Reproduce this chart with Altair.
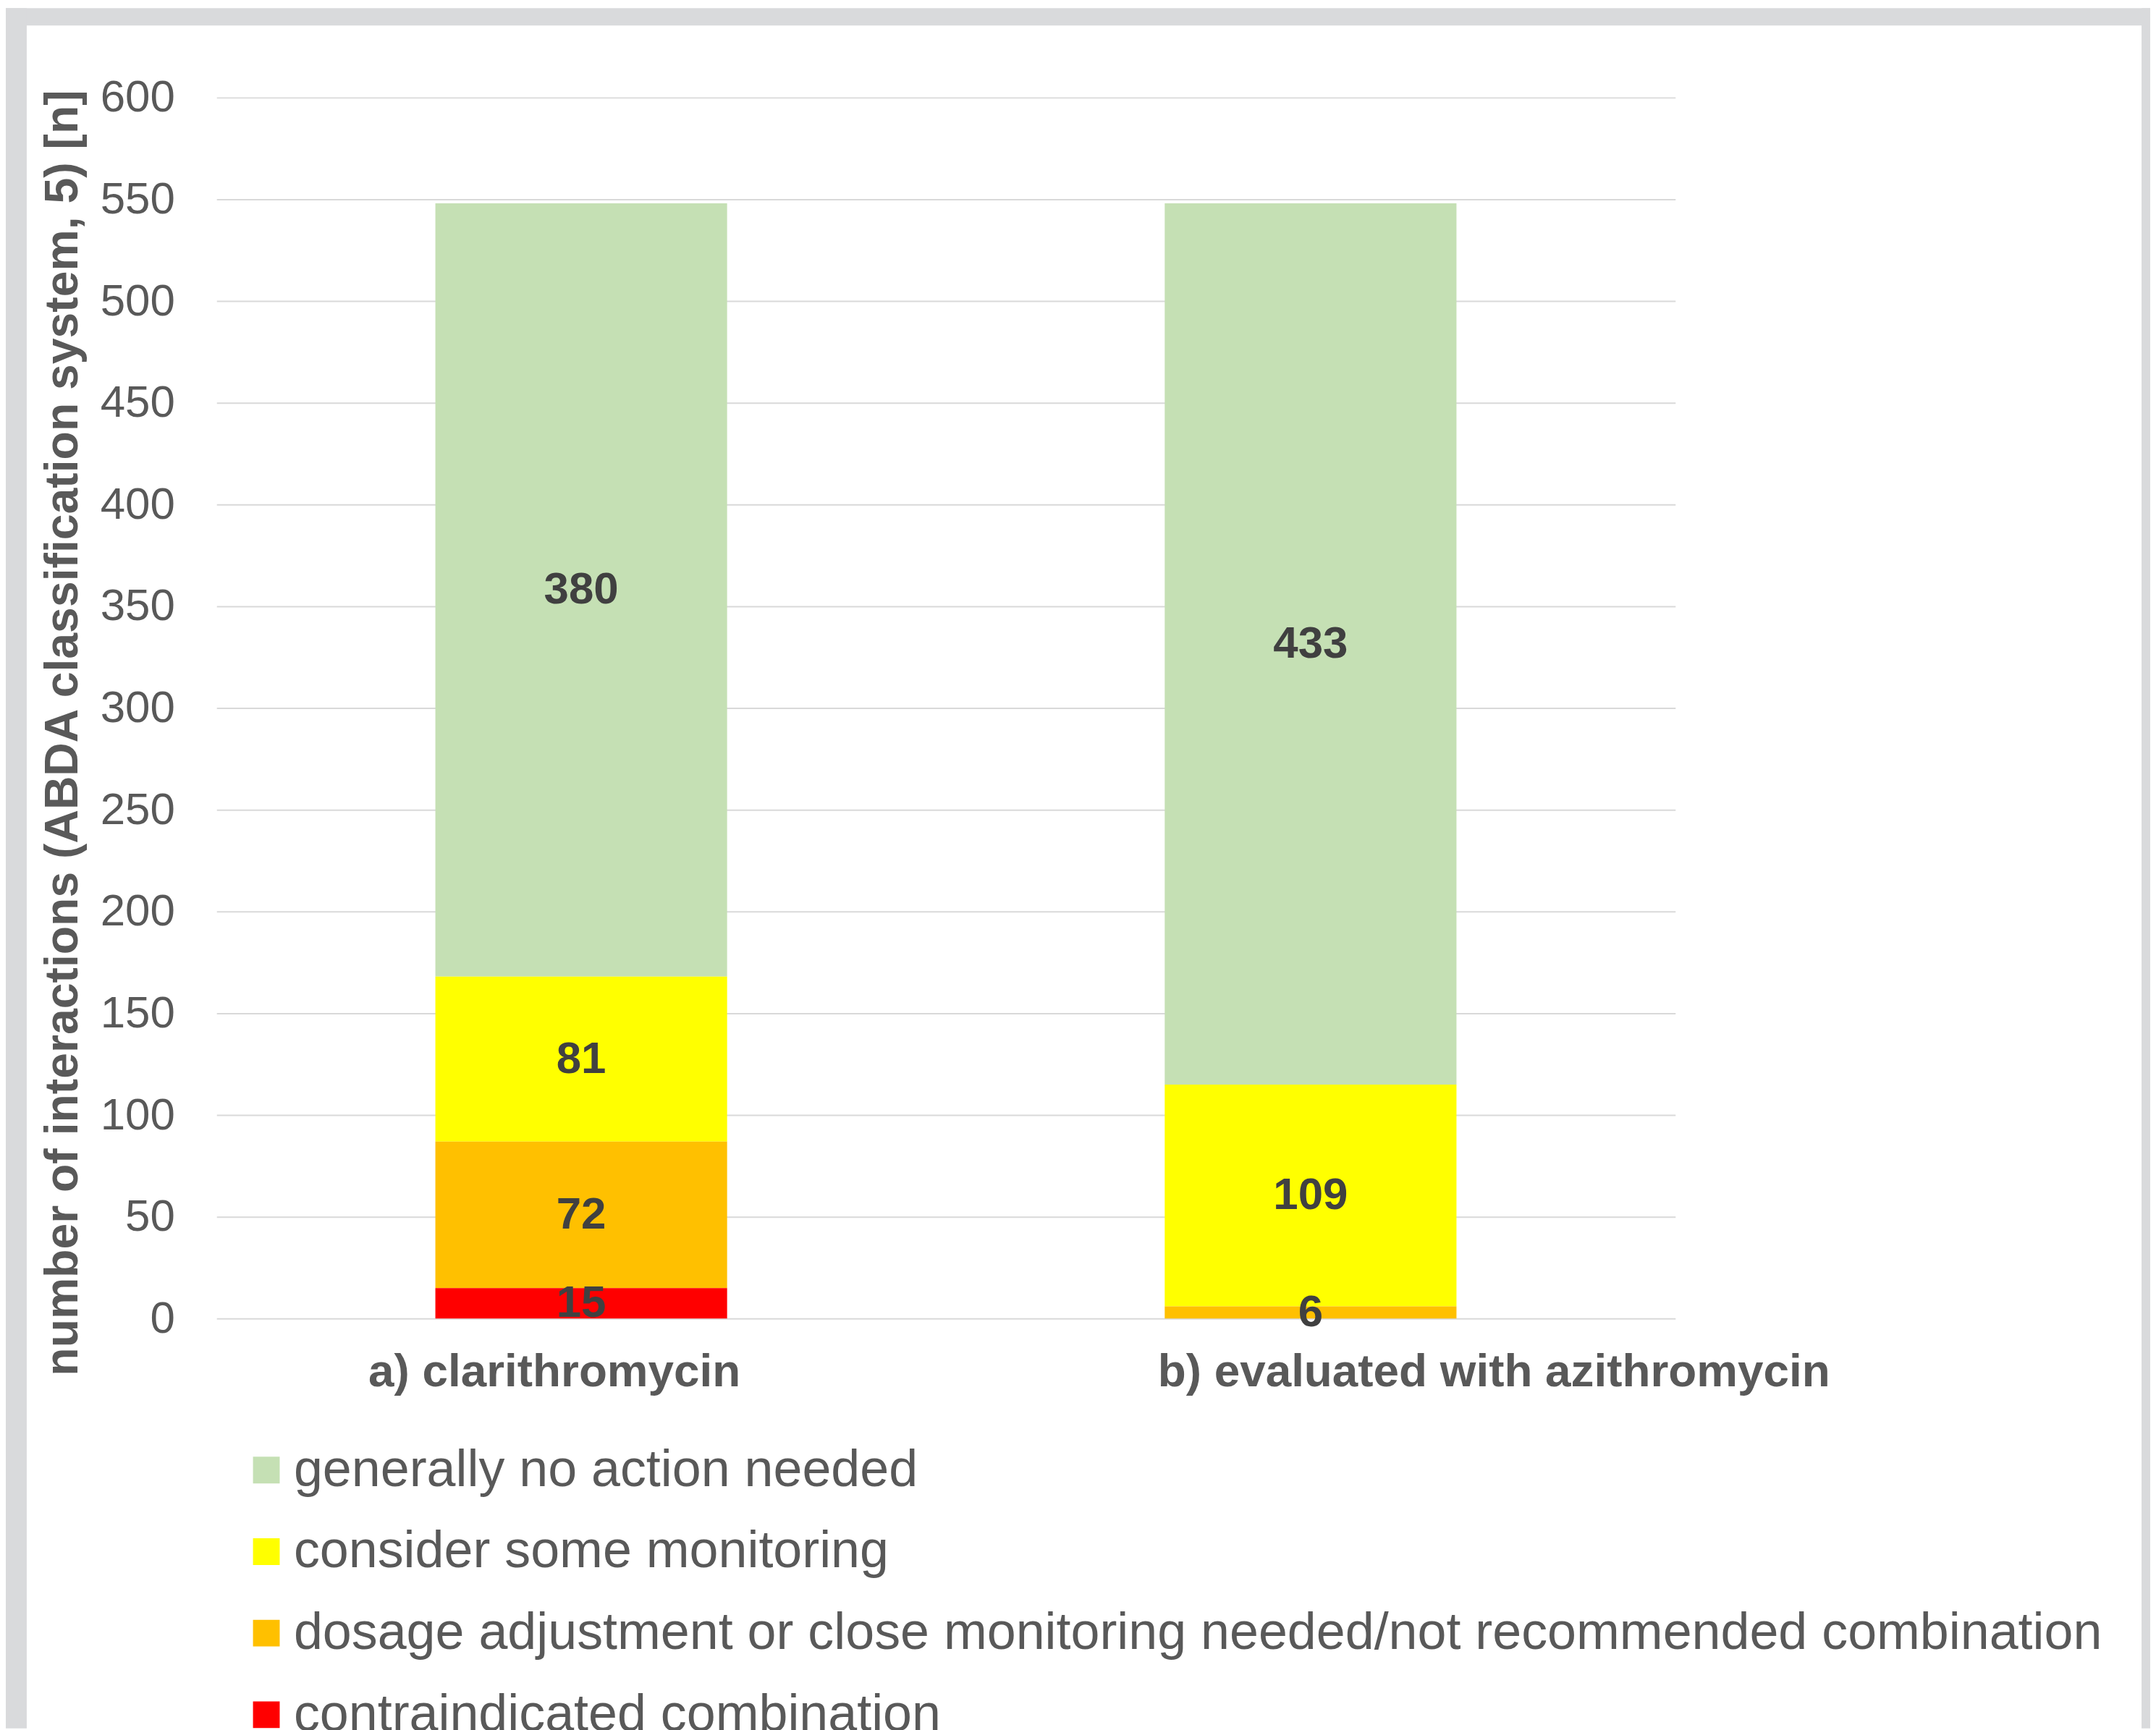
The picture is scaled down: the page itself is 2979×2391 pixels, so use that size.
import altair as alt
import pandas as pd

categories = ["a) clarithromycin", "b) evaluated with azithromycin"]
classes = [
    "generally no action needed",
    "consider some monitoring",
    "dosage adjustment or close monitoring needed/not recommended combination",
    "contraindicated combination",
]
colors = ["#C5E0B4", "#FFFF00", "#FFC000", "#FF0000"]
values_a = [380, 81, 72, 15]
values_b = [433, 109, 6, 0]
y_ticks = list(range(0, 601, 50))

rows = []
for cat, vals in zip(categories, [values_a, values_b]):
    for i, (cls, v) in enumerate(zip(classes, vals)):
        if v > 0:
            rows.append({"category": cat, "cls": cls, "value": v, "order": 3 - i})
df = pd.DataFrame(rows)

FONT = "Liberation Sans"
GRAY = "#595959"
FRAME = "#D9DADC"

x_axis = alt.Axis(
    title=None, grid=False, domain=False, ticks=False, labelAngle=0,
    labelFont=FONT, labelFontSize=64, labelFontWeight="bold", labelColor=GRAY,
    labelBaseline="alphabetic", labelPadding=93, labelLimit=2000,
    labelOverlap=False, labelBound=False,
    labelOffset={"condition": {"test": "datum.value === 'b) evaluated with azithromycin'", "value": 254}, "value": -37},
)
y_axis = alt.Axis(
    title="number of interactions (ABDA classification system, 5) [n]",
    values=y_ticks, grid=True, gridColor="#D9D9D9", gridWidth=2,
    domain=False, ticks=False,
    labelFont=FONT, labelFontSize=62, labelColor=GRAY, labelPadding=58,
    titleFont=FONT, titleFontSize=64.5, titleFontWeight="bold", titleColor=GRAY,
    titleAngle=270, titleAlign="center", titleBaseline="middle",
    titleX=-212, titleY=880,
)

xenc = alt.X("category:N", sort=categories,
             scale=alt.Scale(paddingInner=0.6, paddingOuter=0.3), axis=x_axis)
yscale = alt.Scale(domain=[0, 600], nice=False)

base = alt.Chart(df).transform_stack(
    stack="value", groupby=["category"], sort=[alt.SortField("order")], as_=["y0", "y1"]
).transform_calculate(mid="(datum.y0 + datum.y1) / 2")

bars = base.mark_bar().encode(
    x=xenc,
    y=alt.Y("y0:Q", scale=yscale, axis=y_axis),
    y2="y1:Q",
    color=alt.Color(
        "cls:N",
        scale=alt.Scale(domain=classes, range=colors),
        legend=alt.Legend(
            title=None, orient="none", legendX=33, legendY=1866, direction="vertical",
            symbolType="square", symbolSize=1369, symbolStrokeWidth=0,
            labelFont=FONT, labelFontSize=72, labelColor=GRAY, labelLimit=3000,
            rowPadding=41, labelOffset=2, padding=0,
        ),
    ),
)

labels = base.mark_text(
    font=FONT, fontSize=62, fontWeight="bold", color="#404040", baseline="middle"
).encode(
    x=xenc,
    y=alt.Y("mid:Q", scale=yscale, axis=y_axis),
    text="value:Q",
)

one = alt.Data(values=[{"k": 1}])
top_strip = alt.Chart(one).mark_rect(color=FRAME).encode(
    x=alt.value(-292), x2=alt.value(2679), y=alt.value(-124), y2=alt.value(-100))
left_strip = alt.Chart(one).mark_rect(color=FRAME).encode(
    x=alt.value(-292), x2=alt.value(-263), y=alt.value(-124), y2=alt.value(2260))
right_strip = alt.Chart(one).mark_rect(color=FRAME).encode(
    x=alt.value(2667), x2=alt.value(2679), y=alt.value(-124), y2=alt.value(2260))

chart = alt.layer(top_strip, left_strip, right_strip, bars, labels).properties(
    width=2021, height=1692,
    autosize=alt.AutoSizeParams(type="none"),
    padding={"left": 292, "top": 124, "right": 658, "bottom": 567},
    background="white",
).configure_view(stroke=None)

chart.save("out.html", embed_options={"renderer": "svg", "actions": False})
